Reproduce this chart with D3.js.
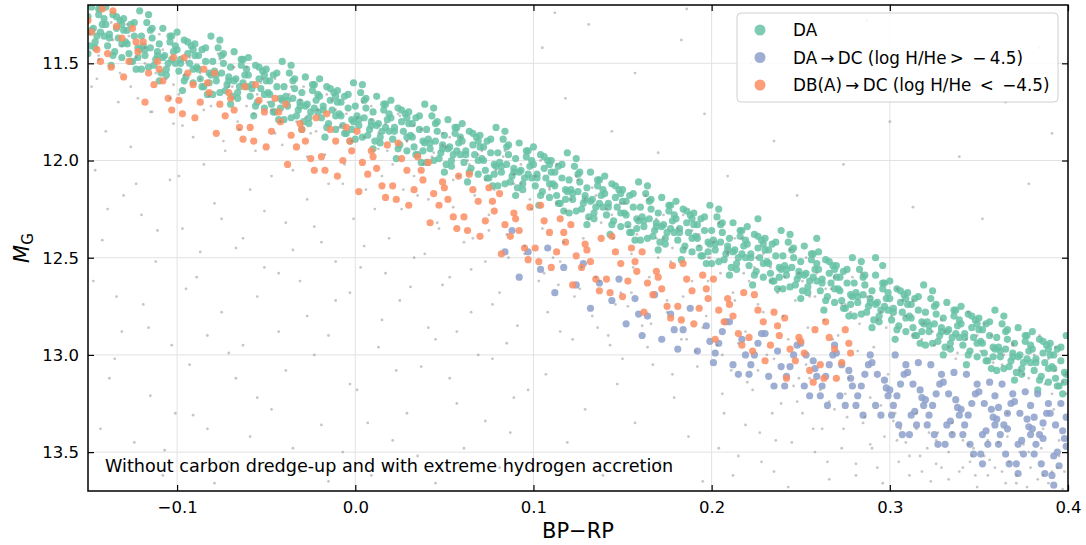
<!DOCTYPE html>
<html>
<head>
<meta charset="utf-8">
<script src="https://cdn.jsdelivr.net/npm/d3@7"></script>
<style>
  body { margin: 0; background: #fff; }
  svg text { font-family: "DejaVu Sans", sans-serif; }
</style>
</head>
<body>
<div id="container"></div>
<script>
// axis ticks
const xTicks = [-0.1, 0.0, 0.1, 0.2, 0.3, 0.4];
const yTicks = [11.5, 12.0, 12.5, 13.0, 13.5];

const seriesNames = [
    'DA',
    'DA\u2009\u2192\u2009DC (log H/He\u2009>\u2002\u2212\u20094.5)',
    'DB(A)\u2009\u2192\u2009DC (log H/He\u2002<\u2002\u22124.5)'
];
const seriesColors = ['#66c2a5', '#8da0cb', '#fc8d62'];

// points, "x,y" pairs (BP-RP, M_G)
const greenPts = `
-0.147,11.32 -0.143,11.22 -0.149,11.41 -0.141,11.27 -0.145,11.36 -0.148,11.21 -0.142,11.30 -0.146,11.39 -0.144,11.25 -0.150,11.45 -0.143,11.34
-0.134,11.32 -0.139,11.41 -0.131,11.47 -0.136,11.25 -0.138,11.35 -0.132,11.28 -0.135,11.44 -0.140,11.21 -0.133,11.37 -0.137,11.51 -0.131,11.30
-0.122,11.42 -0.128,11.33 -0.125,11.49 -0.130,11.27 -0.124,11.36 -0.127,11.45 -0.121,11.23 -0.129,11.39 -0.123,11.53 -0.126,11.30 -0.122,11.47
-0.119,11.41 -0.115,11.33 -0.112,11.48 -0.117,11.29 -0.111,11.44 -0.120,11.53 -0.114,11.37 -0.118,11.46 -0.116,11.25 -0.113,11.51 -0.115,11.42
-0.107,11.46 -0.103,11.36 -0.109,11.55 -0.101,11.41 -0.105,11.50 -0.108,11.32 -0.102,11.44 -0.106,11.53 -0.104,11.39 -0.110,11.59 -0.103,11.48
-0.094,11.45 -0.099,11.54 -0.091,11.60 -0.096,11.38 -0.098,11.48 -0.092,11.41 -0.095,11.57 -0.100,11.34 -0.093,11.50 -0.097,11.64 -0.091,11.43
-0.082,11.55 -0.088,11.46 -0.085,11.62 -0.090,11.40 -0.084,11.49 -0.087,11.58 -0.081,11.36 -0.089,11.52 -0.083,11.66 -0.086,11.43 -0.082,11.60
-0.079,11.54 -0.075,11.46 -0.072,11.61 -0.077,11.42 -0.071,11.57 -0.080,11.66 -0.074,11.50 -0.078,11.59 -0.076,11.38 -0.073,11.64 -0.075,11.55
-0.067,11.58 -0.063,11.48 -0.069,11.67 -0.061,11.53 -0.065,11.62 -0.068,11.44 -0.062,11.56 -0.066,11.65 -0.064,11.51 -0.070,11.71 -0.063,11.60
-0.054,11.58 -0.059,11.67 -0.051,11.73 -0.056,11.51 -0.058,11.61 -0.052,11.54 -0.055,11.70 -0.060,11.47 -0.053,11.63 -0.057,11.77 -0.051,11.56
-0.042,11.68 -0.048,11.59 -0.045,11.75 -0.050,11.53 -0.044,11.62 -0.047,11.71 -0.041,11.49 -0.049,11.65 -0.043,11.79 -0.046,11.56 -0.042,11.73
-0.039,11.67 -0.035,11.59 -0.032,11.74 -0.037,11.55 -0.031,11.70 -0.040,11.79 -0.034,11.63 -0.038,11.72 -0.036,11.51 -0.033,11.77 -0.035,11.68
-0.027,11.71 -0.023,11.61 -0.029,11.80 -0.021,11.66 -0.025,11.75 -0.028,11.57 -0.022,11.69 -0.026,11.78 -0.024,11.64 -0.030,11.84 -0.023,11.73
-0.014,11.69 -0.019,11.78 -0.011,11.84 -0.016,11.62 -0.018,11.72 -0.012,11.65 -0.015,11.81 -0.020,11.58 -0.013,11.74 -0.017,11.88 -0.011,11.67
-0.002,11.79 -0.008,11.70 -0.005,11.86 -0.010,11.64 -0.004,11.73 -0.007,11.82 -0.001,11.60 -0.009,11.76 -0.003,11.90 -0.006,11.67 -0.002,11.84
0.001,11.77 0.005,11.69 0.008,11.84 0.003,11.65 0.009,11.80 0.000,11.89 0.006,11.73 0.002,11.82 0.004,11.61 0.007,11.87 0.005,11.78
0.013,11.81 0.017,11.71 0.011,11.90 0.019,11.76 0.015,11.85 0.012,11.67 0.018,11.79 0.014,11.88 0.016,11.74 0.010,11.94 0.017,11.83
0.026,11.80 0.021,11.89 0.029,11.95 0.024,11.73 0.022,11.83 0.028,11.76 0.025,11.92 0.020,11.69 0.027,11.85 0.023,11.99 0.029,11.78
0.038,11.90 0.032,11.81 0.035,11.97 0.030,11.75 0.036,11.84 0.033,11.93 0.039,11.71 0.031,11.87 0.037,12.01 0.034,11.78 0.038,11.95
0.041,11.89 0.045,11.81 0.048,11.96 0.043,11.77 0.049,11.92 0.040,12.01 0.046,11.85 0.042,11.94 0.044,11.73 0.047,11.99 0.045,11.90
0.053,11.93 0.057,11.83 0.051,12.02 0.059,11.88 0.055,11.97 0.052,11.79 0.058,11.91 0.054,12.00 0.056,11.86 0.050,12.06 0.057,11.95
0.066,11.92 0.061,12.01 0.069,12.07 0.064,11.85 0.062,11.95 0.068,11.88 0.065,12.04 0.060,11.81 0.067,11.97 0.063,12.11 0.069,11.90
0.078,12.02 0.072,11.93 0.075,12.09 0.070,11.87 0.076,11.96 0.073,12.05 0.079,11.83 0.071,11.99 0.077,12.13 0.074,11.90 0.078,12.07
0.081,12.01 0.085,11.93 0.088,12.08 0.083,11.89 0.089,12.04 0.080,12.13 0.086,11.97 0.082,12.06 0.084,11.85 0.087,12.11 0.085,12.02
0.093,12.05 0.097,11.95 0.091,12.14 0.099,12.00 0.095,12.09 0.092,11.91 0.098,12.03 0.094,12.12 0.096,11.98 0.090,12.18 0.097,12.07
0.106,12.04 0.101,12.13 0.109,12.19 0.104,11.97 0.102,12.07 0.108,12.00 0.105,12.16 0.100,11.93 0.107,12.09 0.103,12.23 0.109,12.02
0.118,12.15 0.112,12.06 0.115,12.22 0.110,12.00 0.116,12.09 0.113,12.18 0.119,11.96 0.111,12.12 0.117,12.26 0.114,12.03 0.118,12.20
0.121,12.15 0.125,12.07 0.128,12.22 0.123,12.03 0.129,12.18 0.120,12.27 0.126,12.11 0.122,12.20 0.124,11.99 0.127,12.25 0.125,12.16
0.133,12.20 0.137,12.10 0.131,12.29 0.139,12.15 0.135,12.24 0.132,12.06 0.138,12.18 0.134,12.27 0.136,12.13 0.130,12.33 0.137,12.22
0.146,12.19 0.141,12.28 0.149,12.34 0.144,12.12 0.142,12.22 0.148,12.15 0.145,12.31 0.140,12.08 0.147,12.24 0.143,12.38 0.149,12.17
0.158,12.30 0.152,12.21 0.155,12.37 0.150,12.15 0.156,12.24 0.153,12.33 0.159,12.11 0.151,12.27 0.157,12.41 0.154,12.18 0.158,12.35
0.161,12.29 0.165,12.21 0.168,12.36 0.163,12.17 0.169,12.32 0.160,12.41 0.166,12.25 0.162,12.34 0.164,12.13 0.167,12.39 0.165,12.30
0.173,12.33 0.177,12.23 0.171,12.42 0.179,12.28 0.175,12.37 0.172,12.19 0.178,12.31 0.174,12.40 0.176,12.26 0.170,12.46 0.177,12.35
0.186,12.32 0.181,12.41 0.189,12.47 0.184,12.25 0.182,12.35 0.188,12.28 0.185,12.44 0.180,12.21 0.187,12.37 0.183,12.51 0.189,12.30
0.198,12.42 0.192,12.33 0.195,12.49 0.190,12.27 0.196,12.36 0.193,12.45 0.199,12.23 0.191,12.39 0.197,12.53 0.194,12.30 0.198,12.47
0.201,12.41 0.205,12.33 0.208,12.48 0.203,12.29 0.209,12.44 0.200,12.53 0.206,12.37 0.202,12.46 0.204,12.25 0.207,12.51 0.205,12.42
0.213,12.46 0.217,12.36 0.211,12.55 0.219,12.41 0.215,12.50 0.212,12.32 0.218,12.44 0.214,12.53 0.216,12.39 0.210,12.59 0.217,12.48
0.226,12.45 0.221,12.54 0.229,12.60 0.224,12.38 0.222,12.48 0.228,12.41 0.225,12.57 0.220,12.34 0.227,12.50 0.223,12.64 0.229,12.43
0.238,12.55 0.232,12.46 0.235,12.62 0.230,12.40 0.236,12.49 0.233,12.58 0.239,12.36 0.231,12.52 0.237,12.66 0.234,12.43 0.238,12.60
0.241,12.54 0.245,12.46 0.248,12.61 0.243,12.42 0.249,12.57 0.240,12.66 0.246,12.50 0.242,12.59 0.244,12.38 0.247,12.64 0.245,12.55
0.253,12.58 0.257,12.48 0.251,12.67 0.259,12.53 0.255,12.62 0.252,12.44 0.258,12.56 0.254,12.65 0.256,12.51 0.250,12.71 0.257,12.60
0.266,12.58 0.261,12.67 0.269,12.73 0.264,12.51 0.262,12.61 0.268,12.54 0.265,12.70 0.260,12.47 0.267,12.63 0.263,12.77 0.269,12.56
0.278,12.69 0.272,12.60 0.275,12.76 0.270,12.54 0.276,12.63 0.273,12.72 0.279,12.50 0.271,12.66 0.277,12.80 0.274,12.57 0.278,12.74
0.281,12.68 0.285,12.60 0.288,12.75 0.283,12.56 0.289,12.71 0.280,12.80 0.286,12.64 0.282,12.73 0.284,12.52 0.287,12.78 0.285,12.69
0.293,12.73 0.297,12.63 0.291,12.82 0.299,12.68 0.295,12.77 0.292,12.59 0.298,12.71 0.294,12.80 0.296,12.66 0.290,12.86 0.297,12.75
0.306,12.73 0.301,12.82 0.309,12.88 0.304,12.66 0.302,12.76 0.308,12.69 0.305,12.85 0.300,12.62 0.307,12.78 0.303,12.92 0.309,12.71
0.318,12.83 0.312,12.74 0.315,12.90 0.310,12.68 0.316,12.77 0.313,12.86 0.319,12.64 0.311,12.80 0.317,12.94 0.314,12.71 0.318,12.88
0.321,12.83 0.325,12.75 0.328,12.90 0.323,12.71 0.329,12.86 0.320,12.95 0.326,12.79 0.322,12.88 0.324,12.67 0.327,12.93 0.325,12.84
0.333,12.87 0.337,12.77 0.331,12.96 0.339,12.82 0.335,12.91 0.332,12.73 0.338,12.85 0.334,12.94 0.336,12.80 0.330,13.00 0.337,12.89
0.346,12.86 0.341,12.95 0.349,13.01 0.344,12.79 0.342,12.89 0.348,12.82 0.345,12.98 0.340,12.75 0.347,12.91 0.343,13.05 0.349,12.84
0.358,12.96 0.352,12.87 0.355,13.03 0.350,12.81 0.356,12.90 0.353,12.99 0.359,12.77 0.351,12.93 0.357,13.07 0.354,12.84 0.358,13.01
0.361,12.96 0.365,12.88 0.368,13.03 0.363,12.84 0.369,12.99 0.360,13.08 0.366,12.92 0.362,13.01 0.364,12.80 0.367,13.06 0.365,12.97
0.373,13.00 0.377,12.90 0.371,13.09 0.379,12.95 0.375,13.04 0.372,12.86 0.378,12.98 0.374,13.07 0.376,12.93 0.370,13.13 0.377,13.02
0.386,12.99 0.381,13.08 0.389,13.14 0.384,12.92 0.382,13.02 0.388,12.95 0.385,13.11 0.380,12.88 0.387,13.04 0.383,13.18 0.389,12.97
0.398,13.09 0.392,13.00 0.395,13.16 0.390,12.94 0.396,13.03 0.393,13.12 0.399,12.90 0.391,13.06 0.397,13.20 0.394,12.97 0.398,13.14
-0.148,11.33 -0.144,11.22 -0.141,11.36 -0.146,11.42 -0.150,11.26 -0.138,11.37 -0.134,11.26 -0.131,11.40 -0.136,11.46 -0.140,11.30
-0.128,11.40 -0.124,11.29 -0.121,11.43 -0.126,11.49 -0.130,11.33 -0.118,11.43 -0.114,11.32 -0.111,11.46 -0.116,11.52 -0.120,11.36
-0.108,11.47 -0.104,11.36 -0.101,11.50 -0.106,11.56 -0.110,11.40 -0.098,11.50 -0.094,11.39 -0.091,11.53 -0.096,11.59 -0.100,11.43
-0.088,11.53 -0.084,11.42 -0.081,11.56 -0.086,11.62 -0.090,11.46 -0.078,11.56 -0.074,11.45 -0.071,11.59 -0.076,11.65 -0.080,11.49
-0.068,11.59 -0.064,11.48 -0.061,11.62 -0.066,11.68 -0.070,11.52 -0.058,11.63 -0.054,11.52 -0.051,11.66 -0.056,11.72 -0.060,11.56
-0.048,11.66 -0.044,11.55 -0.041,11.69 -0.046,11.75 -0.050,11.59 -0.038,11.69 -0.034,11.58 -0.031,11.72 -0.036,11.78 -0.040,11.62
-0.028,11.72 -0.024,11.61 -0.021,11.75 -0.026,11.81 -0.030,11.65 -0.018,11.74 -0.014,11.63 -0.011,11.77 -0.016,11.83 -0.020,11.67
-0.008,11.77 -0.004,11.66 -0.001,11.80 -0.006,11.86 -0.010,11.70 0.002,11.79 0.006,11.68 0.009,11.82 0.004,11.88 0.000,11.72
0.012,11.82 0.016,11.71 0.019,11.85 0.014,11.91 0.010,11.75 0.022,11.85 0.026,11.74 0.029,11.88 0.024,11.94 0.020,11.78
0.032,11.88 0.036,11.77 0.039,11.91 0.034,11.97 0.030,11.81 0.042,11.91 0.046,11.80 0.049,11.94 0.044,12.00 0.040,11.84
0.052,11.94 0.056,11.83 0.059,11.97 0.054,12.03 0.050,11.87 0.062,11.97 0.066,11.86 0.069,12.00 0.064,12.06 0.060,11.90
0.072,12.00 0.076,11.89 0.079,12.03 0.074,12.09 0.070,11.93 0.082,12.03 0.086,11.92 0.089,12.06 0.084,12.12 0.080,11.96
0.092,12.06 0.096,11.95 0.099,12.09 0.094,12.15 0.090,11.99 0.102,12.09 0.106,11.98 0.109,12.12 0.104,12.18 0.100,12.02
0.112,12.13 0.116,12.02 0.119,12.16 0.114,12.22 0.110,12.06 0.122,12.17 0.126,12.06 0.129,12.20 0.124,12.26 0.120,12.10
0.132,12.21 0.136,12.10 0.139,12.24 0.134,12.30 0.130,12.14 0.142,12.24 0.146,12.13 0.149,12.27 0.144,12.33 0.140,12.17
0.152,12.28 0.156,12.17 0.159,12.31 0.154,12.37 0.150,12.21 0.162,12.31 0.166,12.20 0.169,12.34 0.164,12.40 0.160,12.24
0.172,12.34 0.176,12.23 0.179,12.37 0.174,12.43 0.170,12.27 0.182,12.37 0.186,12.26 0.189,12.40 0.184,12.46 0.180,12.30
0.192,12.40 0.196,12.29 0.199,12.43 0.194,12.49 0.190,12.33 0.202,12.43 0.206,12.32 0.209,12.46 0.204,12.52 0.200,12.36
0.212,12.47 0.216,12.36 0.219,12.50 0.214,12.56 0.210,12.40 0.222,12.50 0.226,12.39 0.229,12.53 0.224,12.59 0.220,12.43
0.232,12.53 0.236,12.42 0.239,12.56 0.234,12.62 0.230,12.46 0.242,12.56 0.246,12.45 0.249,12.59 0.244,12.65 0.240,12.49
0.252,12.59 0.256,12.48 0.259,12.62 0.254,12.68 0.250,12.52 0.262,12.63 0.266,12.52 0.269,12.66 0.264,12.72 0.260,12.56
0.272,12.67 0.276,12.56 0.279,12.70 0.274,12.76 0.270,12.60 0.282,12.70 0.286,12.59 0.289,12.73 0.284,12.79 0.280,12.63
0.292,12.74 0.296,12.63 0.299,12.77 0.294,12.83 0.290,12.67 0.302,12.78 0.306,12.67 0.309,12.81 0.304,12.87 0.300,12.71
0.312,12.81 0.316,12.70 0.319,12.84 0.314,12.90 0.310,12.74 0.322,12.85 0.326,12.74 0.329,12.88 0.324,12.94 0.320,12.78
0.332,12.88 0.336,12.77 0.339,12.91 0.334,12.97 0.330,12.81 0.342,12.91 0.346,12.80 0.349,12.94 0.344,13.00 0.340,12.84
0.352,12.94 0.356,12.83 0.359,12.97 0.354,13.03 0.350,12.87 0.362,12.98 0.366,12.87 0.369,13.01 0.364,13.07 0.360,12.91
0.372,13.01 0.376,12.90 0.379,13.04 0.374,13.10 0.370,12.94 0.382,13.04 0.386,12.93 0.389,13.07 0.384,13.13 0.380,12.97
0.392,13.07 0.396,12.96 0.399,13.10 0.394,13.16 0.390,13.00 0.292,12.50 0.296,12.54 0.226,12.30 0.259,12.40
`;

const orangePts = `
-0.148,11.34 -0.142,11.22 -0.145,11.43 -0.150,11.28 -0.143,11.49 -0.134,11.31 -0.139,11.45 -0.131,11.37 -0.136,11.23 -0.137,11.52
-0.127,11.49 -0.123,11.39 -0.130,11.57 -0.125,11.32 -0.122,11.44 -0.111,11.49 -0.116,11.55 -0.119,11.39 -0.113,11.61 -0.118,11.70
-0.108,11.59 -0.102,11.47 -0.105,11.68 -0.110,11.53 -0.103,11.74 -0.094,11.55 -0.099,11.69 -0.091,11.61 -0.096,11.47 -0.097,11.76
-0.087,11.70 -0.083,11.60 -0.090,11.78 -0.085,11.53 -0.082,11.65 -0.071,11.65 -0.076,11.71 -0.079,11.55 -0.073,11.77 -0.078,11.86
-0.068,11.74 -0.062,11.62 -0.065,11.83 -0.070,11.68 -0.063,11.89 -0.054,11.69 -0.059,11.83 -0.051,11.75 -0.056,11.61 -0.057,11.90
-0.047,11.85 -0.043,11.75 -0.050,11.93 -0.045,11.68 -0.042,11.80 -0.031,11.81 -0.036,11.87 -0.039,11.71 -0.033,11.93 -0.038,12.02
-0.028,11.90 -0.022,11.78 -0.025,11.99 -0.030,11.84 -0.023,12.05 -0.014,11.84 -0.019,11.98 -0.011,11.90 -0.016,11.76 -0.017,12.05
-0.007,12.00 -0.003,11.90 -0.010,12.08 -0.005,11.83 -0.002,11.95 0.009,11.95 0.004,12.01 0.001,11.85 0.007,12.07 0.002,12.16
0.012,12.04 0.018,11.92 0.015,12.13 0.010,11.98 0.017,12.19 0.026,11.99 0.021,12.13 0.029,12.05 0.024,11.91 0.023,12.20
0.033,12.15 0.037,12.05 0.030,12.23 0.035,11.98 0.038,12.10 0.049,12.11 0.044,12.17 0.041,12.01 0.047,12.23 0.042,12.32
0.052,12.20 0.058,12.08 0.055,12.29 0.050,12.14 0.057,12.35 0.066,12.15 0.061,12.29 0.069,12.21 0.064,12.07 0.063,12.36
0.073,12.31 0.077,12.21 0.070,12.39 0.075,12.14 0.078,12.26 0.089,12.27 0.084,12.33 0.081,12.17 0.087,12.39 0.082,12.48
0.092,12.36 0.098,12.24 0.095,12.45 0.090,12.30 0.097,12.51 0.106,12.31 0.101,12.45 0.109,12.37 0.104,12.23 0.103,12.52
0.113,12.47 0.117,12.37 0.110,12.55 0.115,12.30 0.118,12.42 0.129,12.43 0.124,12.49 0.121,12.33 0.127,12.55 0.122,12.64
0.132,12.52 0.138,12.40 0.135,12.61 0.130,12.46 0.137,12.67 0.146,12.47 0.141,12.61 0.149,12.53 0.144,12.39 0.143,12.68
0.153,12.62 0.157,12.52 0.150,12.70 0.155,12.45 0.158,12.57 0.169,12.57 0.164,12.63 0.161,12.47 0.167,12.69 0.162,12.78
0.172,12.66 0.178,12.54 0.175,12.75 0.170,12.60 0.177,12.81 0.186,12.61 0.181,12.75 0.189,12.67 0.184,12.53 0.183,12.82
0.193,12.76 0.197,12.66 0.190,12.84 0.195,12.59 0.198,12.71 0.209,12.71 0.204,12.77 0.201,12.61 0.207,12.83 0.202,12.92
0.212,12.80 0.218,12.68 0.215,12.89 0.210,12.74 0.217,12.95 0.226,12.77 0.221,12.91 0.229,12.83 0.224,12.69 0.223,12.98
0.233,12.95 0.237,12.85 0.230,13.03 0.235,12.78 0.238,12.90 0.249,12.91 0.244,12.97 0.241,12.81 0.247,13.03 0.242,13.12
0.252,12.99 0.258,12.87 0.255,13.08 0.250,12.93 0.257,13.14 0.266,12.91 0.261,13.05 0.269,12.97 0.264,12.83 0.263,13.12
0.273,13.04 0.277,12.94 0.270,13.12 0.275,12.87 0.278,12.99
`;

const bluePts = `
0.084,12.47 0.088,12.36 0.097,12.47 0.092,12.60 0.104,12.56 0.108,12.45 0.117,12.55 0.112,12.68 0.124,12.64 0.128,12.53
0.137,12.63 0.132,12.76 0.144,12.72 0.148,12.61 0.157,12.71 0.152,12.84 0.159,12.79 0.164,12.80 0.168,12.69 0.161,12.90
0.177,12.79 0.172,12.92 0.179,12.87 0.184,12.87 0.188,12.76 0.181,12.97 0.197,12.85 0.192,12.98 0.199,12.93
0.204,12.94 0.208,12.83 0.201,13.04 0.206,12.88 0.202,12.99 0.217,12.92 0.212,13.05 0.219,13.00 0.210,12.83 0.215,13.10
0.224,13.00 0.228,12.89 0.221,13.10 0.226,12.94 0.222,13.05 0.237,12.98 0.232,13.11 0.239,13.06 0.230,12.89 0.235,13.16
0.244,13.06 0.248,12.95 0.241,13.16 0.246,13.00 0.242,13.11
0.257,13.03 0.252,13.16 0.259,13.11 0.250,12.94 0.255,13.21 0.253,13.00 0.258,13.07
0.264,13.11 0.268,13.00 0.261,13.21 0.266,13.05 0.262,13.16 0.269,12.95 0.265,13.26
0.277,13.08 0.272,13.21 0.279,13.16 0.270,12.99 0.275,13.26 0.273,13.05 0.278,13.12
0.284,13.16 0.288,13.05 0.281,13.26 0.286,13.10 0.282,13.21 0.289,13.00 0.285,13.31
0.297,13.13 0.292,13.26 0.299,13.21 0.290,13.04 0.295,13.31 0.293,13.10 0.298,13.17
0.304,13.21 0.308,13.10 0.301,13.31 0.306,13.15 0.302,13.26 0.309,13.05 0.305,13.36 0.300,13.18 0.307,13.41 0.303,13.00
0.317,13.18 0.312,13.31 0.319,13.26 0.310,13.09 0.315,13.36 0.313,13.15 0.318,13.22 0.311,13.41 0.316,13.04 0.314,13.29
0.324,13.26 0.328,13.15 0.321,13.36 0.326,13.20 0.322,13.31 0.329,13.10 0.325,13.41 0.320,13.23 0.327,13.46 0.323,13.05
0.337,13.23 0.332,13.36 0.339,13.31 0.330,13.14 0.335,13.41 0.333,13.20 0.338,13.27 0.331,13.46 0.336,13.09 0.334,13.34
0.344,13.31 0.348,13.20 0.341,13.41 0.346,13.25 0.342,13.36 0.349,13.15 0.345,13.46 0.340,13.28 0.347,13.51 0.343,13.10
0.357,13.28 0.352,13.41 0.359,13.36 0.350,13.19 0.355,13.46 0.353,13.25 0.358,13.32 0.351,13.51 0.356,13.14 0.354,13.39 0.359,13.21 0.352,13.56
0.364,13.36 0.368,13.25 0.361,13.46 0.366,13.30 0.362,13.41 0.369,13.20 0.365,13.51 0.360,13.33 0.367,13.56 0.363,13.15 0.366,13.38 0.361,13.27
0.377,13.33 0.372,13.46 0.379,13.41 0.370,13.24 0.375,13.51 0.373,13.30 0.378,13.37 0.371,13.56 0.376,13.19 0.374,13.44 0.379,13.26 0.372,13.61
0.384,13.41 0.388,13.30 0.381,13.51 0.386,13.35 0.382,13.46 0.389,13.25 0.385,13.56 0.380,13.38 0.387,13.61 0.383,13.20 0.386,13.43 0.381,13.32
0.397,13.39 0.392,13.52 0.399,13.47 0.390,13.30 0.395,13.57 0.393,13.36 0.398,13.43 0.391,13.62 0.396,13.25 0.394,13.50 0.399,13.32 0.392,13.67
`;

const grayPts = `
-0.148,11.62 -0.146,12.05 -0.144,11.48 -0.142,12.41 -0.140,11.85 -0.138,13.12 -0.136,11.38 -0.134,12.70 -0.132,11.55 -0.130,12.18 -0.128,11.30 -0.126,11.93 -0.124,13.45 -0.122,11.68 -0.120,12.28 -0.118,11.42 -0.116,12.86 -0.114,11.75 -0.112,12.52 -0.110,11.35 -0.108,13.62 -0.106,11.58 -0.104,12.10 -0.102,11.81 -0.101,13.30
-0.099,11.66 -0.097,12.35 -0.095,11.49 -0.093,13.05 -0.091,11.88 -0.089,12.60 -0.087,11.55 -0.085,12.02 -0.083,13.38 -0.081,11.72 -0.079,12.22 -0.077,11.45 -0.075,12.78 -0.073,11.95 -0.071,13.55 -0.069,11.62 -0.067,12.45 -0.065,11.84 -0.063,12.95 -0.061,11.52 -0.059,12.15 -0.057,11.76 -0.055,13.22 -0.053,11.60 -0.051,12.55
-0.049,11.70 -0.047,12.08 -0.045,11.58 -0.043,12.88 -0.041,11.92 -0.039,12.32 -0.037,11.66 -0.035,13.48 -0.033,11.80 -0.031,12.62 -0.029,11.62 -0.027,12.20 -0.025,11.86 -0.023,13.00 -0.021,11.74 -0.019,12.42 -0.017,11.97 -0.015,13.65 -0.013,11.69 -0.011,12.72 -0.009,11.83 -0.007,12.12 -0.005,11.76 -0.003,13.15 -0.001,12.30
0.001,11.78 0.003,12.55 0.005,11.88 0.007,13.35 0.009,11.72 0.011,12.25 0.013,11.94 0.015,12.82 0.017,11.81 0.019,12.40 0.021,12.02 0.023,13.08 0.025,11.77 0.027,12.15 0.029,11.90 0.031,12.65 0.033,12.08 0.035,13.52 0.037,11.84 0.039,12.48 0.041,12.20 0.043,11.98 0.045,12.92 0.047,12.35 0.049,11.86
0.051,11.93 0.053,12.60 0.055,12.10 0.057,13.25 0.059,11.88 0.061,12.42 0.063,12.00 0.065,12.78 0.067,12.18 0.069,13.60 0.071,11.95 0.073,12.52 0.075,12.28 0.077,13.02 0.079,12.05 0.081,12.68 0.083,11.98 0.085,12.38 0.087,13.40 0.089,12.12 0.091,12.85 0.093,12.02 0.095,12.48 0.097,13.18 0.099,12.25
0.101,12.08 0.103,12.62 0.105,12.35 0.107,13.10 0.109,12.15 0.111,12.50 0.113,12.02 0.115,12.88 0.117,12.42 0.119,13.45 0.121,12.20 0.123,12.70 0.125,12.10 0.127,12.55 0.129,13.28 0.131,12.30 0.133,12.80 0.135,12.18 0.137,12.62 0.139,13.62 0.141,12.25 0.143,12.95 0.145,12.40 0.147,13.15 0.149,12.68
0.151,12.22 0.153,12.75 0.155,12.48 0.157,13.35 0.159,12.30 0.161,12.85 0.163,12.18 0.165,12.60 0.167,13.05 0.169,12.40 0.171,13.55 0.173,12.28 0.175,12.72 0.177,12.52 0.179,13.22 0.181,12.35 0.183,12.92 0.185,12.45 0.187,13.42 0.189,12.62 0.191,12.98 0.193,12.38 0.195,13.65 0.197,12.80 0.199,12.50
0.201,12.42 0.203,12.95 0.205,12.58 0.207,13.30 0.209,12.48 0.211,13.08 0.213,12.72 0.215,13.52 0.217,12.40 0.219,12.88 0.221,12.62 0.223,13.18 0.225,12.50 0.227,13.40 0.229,12.78 0.231,13.00 0.233,12.55 0.235,13.60 0.237,12.68 0.239,13.25 0.241,12.60 0.243,12.92 0.245,13.45 0.247,12.72 0.249,13.12
0.251,12.62 0.253,13.05 0.255,12.70 0.257,13.38 0.259,12.58 0.261,13.18 0.263,12.82 0.265,13.55 0.267,12.66 0.269,13.28 0.271,12.90 0.273,13.48 0.275,12.74 0.277,13.12 0.279,12.60 0.281,13.62 0.283,12.84 0.285,13.35 0.287,12.70 0.289,13.22 0.291,12.96 0.293,13.58 0.295,12.78 0.297,13.42 0.299,13.10
0.301,12.80 0.303,13.30 0.305,13.55 0.307,12.72 0.309,13.45 0.311,13.62 0.313,12.90 0.315,13.38 0.317,13.52 0.319,12.84 0.321,13.48 0.323,13.65 0.325,12.95 0.327,13.40 0.329,13.58 0.331,12.88 0.333,13.50 0.335,13.35 0.337,13.02 0.339,13.60 0.341,13.44 0.343,12.92 0.345,13.55 0.347,13.48 0.349,13.68
0.351,12.98 0.353,13.52 0.355,13.62 0.357,12.90 0.359,13.58 0.361,13.45 0.363,13.05 0.365,13.66 0.367,13.55 0.369,12.95 0.371,13.62 0.373,13.50 0.375,13.10 0.377,13.68 0.379,13.58 0.381,13.00 0.383,13.64 0.385,13.48 0.387,13.15 0.389,13.66 0.391,13.60 0.393,13.08 0.395,13.52 0.397,13.69 0.399,13.20
-0.149,11.35 -0.137,11.29 -0.144,11.46 -0.131,11.41 -0.127,11.36 -0.118,11.50 -0.123,11.47 -0.112,11.55 -0.108,11.43 -0.096,11.56 -0.102,11.61 -0.093,11.47
-0.087,11.58 -0.076,11.48 -0.082,11.67 -0.071,11.62 -0.068,11.52 -0.055,11.66 -0.061,11.72 -0.052,11.58 -0.047,11.74 -0.036,11.62 -0.042,11.80 -0.031,11.69
-0.028,11.78 -0.016,11.66 -0.022,11.85 -0.011,11.74 -0.008,11.82 0.004,11.70 -0.002,11.90 0.009,11.79 0.013,11.86 0.024,11.76 0.018,11.95 0.029,11.90
0.033,11.82 0.044,11.96 0.038,12.02 0.049,11.92 0.053,11.88 0.064,12.02 0.058,12.08 0.069,11.97 0.073,12.10 0.084,11.95 0.078,12.15 0.089,12.07
0.093,12.12 0.104,12.00 0.098,12.20 0.109,12.14 0.113,12.22 0.124,12.08 0.118,12.26 0.129,12.20 0.133,12.14 0.144,12.28 0.138,12.32 0.149,12.22
0.153,12.34 0.164,12.20 0.158,12.38 0.169,12.30 0.173,12.40 0.184,12.28 0.178,12.45 0.189,12.36 0.193,12.44 0.204,12.32 0.198,12.50 0.209,12.47
0.213,12.40 0.224,12.55 0.218,12.58 0.229,12.48 0.233,12.62 0.244,12.46 0.238,12.66 0.249,12.58 0.253,12.50 0.264,12.66 0.258,12.70 0.269,12.60
0.273,12.74 0.284,12.58 0.278,12.78 0.289,12.70 0.293,12.82 0.304,12.66 0.298,12.86 0.309,12.80 0.313,12.72 0.324,12.88 0.318,12.92 0.329,12.82
0.333,12.96 0.344,12.78 0.338,12.99 0.349,12.90 0.353,12.84 0.364,13.00 0.358,13.04 0.369,12.94 0.373,13.08 0.384,12.90 0.378,13.12 0.389,13.02
0.393,12.96 0.397,13.14 0.391,13.20 0.399,13.10
-0.145,11.58 -0.133,11.70 -0.126,11.62 -0.115,11.75 -0.104,11.68 -0.097,11.82 -0.085,11.74 -0.074,11.90 -0.066,11.80 -0.056,11.95 -0.045,11.86 -0.035,12.05
-0.027,11.98 -0.015,12.12 -0.006,12.02 0.006,12.15 0.015,12.08 0.026,12.25 0.035,12.18 0.046,12.32 0.055,12.24 0.066,12.40 0.075,12.36 0.086,12.50
0.095,12.44 0.106,12.58 0.115,12.52 0.126,12.66 0.135,12.60 0.146,12.74 0.155,12.68 0.166,12.84 0.175,12.78 0.186,12.92 0.195,12.86 0.206,13.00
0.215,12.94 0.226,13.08 0.235,13.02 0.246,13.16 0.255,13.12 0.266,13.24 0.275,13.20 0.286,13.32 0.295,13.26 0.306,13.38 0.315,13.30 0.326,13.44
0.335,13.40 0.346,13.52 0.355,13.44 0.366,13.30 0.375,13.46 0.386,13.38 0.395,13.44 0.392,13.28 0.398,13.60
-0.147,12.62 -0.143,13.38 -0.139,12.25 -0.135,13.02 -0.131,12.88 -0.127,13.58 -0.123,12.12 -0.119,12.74 -0.115,13.21 -0.111,12.36 -0.107,13.49 -0.103,12.95
-0.099,12.08 -0.095,12.66 -0.091,13.31 -0.087,12.47 -0.083,12.90 -0.079,13.66 -0.075,12.30 -0.071,12.99 -0.067,13.12 -0.063,12.40 -0.059,13.42 -0.055,12.70 -0.051,12.26
-0.047,13.28 -0.043,12.58 -0.039,13.08 -0.035,12.46 -0.031,13.60 -0.027,12.80 -0.023,12.34 -0.019,13.36 -0.015,12.90 -0.011,12.52 -0.007,13.50 -0.003,12.68
0.001,13.18 0.005,12.44 0.009,13.62 0.013,12.96 0.017,12.58 0.021,13.44 0.025,12.72 0.029,13.30 0.033,12.50 0.037,13.06 0.041,12.86 0.045,13.66 0.049,12.64
0.053,13.12 0.057,12.88 0.061,13.48 0.065,12.56 0.069,13.00 0.073,13.34 0.077,12.74 0.081,13.58 0.085,12.94 0.089,13.22
0.105,11.42 0.118,11.68 0.131,11.30 0.144,11.85 0.157,11.55 0.170,11.96 0.183,11.38 0.196,11.76 0.209,12.08 0.222,11.50 0.235,11.90 0.248,12.18 0.261,11.62 0.274,12.02
0.287,11.28 0.300,11.80 0.313,12.24 0.326,11.46 0.339,11.98 0.352,12.30 0.365,11.70 0.378,12.12 0.391,11.86 0.112,11.24 0.186,11.22 0.258,11.34 0.330,11.60 0.384,11.42
0.204,13.48 0.212,13.62 0.219,13.36 0.228,13.55 0.236,13.44 0.243,13.68 0.251,13.30 0.258,13.50 0.266,13.64 0.274,13.38 0.281,13.56 0.289,13.46 0.296,13.66 0.304,13.44 0.311,13.52
0.318,13.60 0.326,13.56 0.333,13.64 0.341,13.58 0.348,13.62 0.356,13.54 0.363,13.60 0.371,13.66 0.378,13.50 0.386,13.62 0.394,13.58 0.302,13.34 0.322,13.40 0.344,13.46 0.366,13.42
0.108,12.78 0.122,12.92 0.136,12.86 0.150,13.02 0.164,12.96 0.178,13.10 0.192,13.06 0.206,13.20 0.220,13.14 0.234,13.30 0.248,13.24 0.262,13.38 0.276,13.32 0.290,13.48
0.114,12.64 0.128,12.40 0.142,12.90 0.156,12.55 0.170,12.50 0.184,12.70 0.198,12.62 0.212,12.68 0.226,12.74 0.240,12.80 0.254,12.86 0.268,12.92 0.282,12.98
`;

const annotation = 'Without carbon dredge-up and with extreme hydrogen accretion';

function parsePts(str) {
    return str.trim().split(/\s+/).map(s => s.split(',').map(Number));
}

const width = 1086;
const height = 545;
const margin = { top: 5, right: 18, bottom: 54, left: 88 };

const svg = d3.select('#container').append('svg')
    .attr('width', width)
    .attr('height', height);

const x = d3.scaleLinear().domain([-0.15, 0.4]).range([margin.left, width - margin.right]);
const y = d3.scaleLinear().domain([11.2, 13.7]).range([margin.top, height - margin.bottom]);

svg.append('defs').append('clipPath').attr('id', 'plotclip')
    .append('rect')
    .attr('x', margin.left).attr('y', margin.top)
    .attr('width', x.range()[1] - margin.left)
    .attr('height', y.range()[1] - margin.top);

// grid
const grid = svg.append('g').attr('stroke', '#e2e2e2').attr('stroke-width', 1);
xTicks.forEach(t => grid.append('line')
    .attr('x1', x(t)).attr('x2', x(t)).attr('y1', y.range()[0]).attr('y2', y.range()[1]));
yTicks.forEach(t => grid.append('line')
    .attr('x1', x.range()[0]).attr('x2', x.range()[1]).attr('y1', y(t)).attr('y2', y(t)));

const plot = svg.append('g').attr('clip-path', 'url(#plotclip)');

// the three populations
[greenPts, bluePts, orangePts].forEach((pts, k) => {
    const color = [seriesColors[0], seriesColors[1], seriesColors[2]][k];
    plot.append('g')
        .selectAll('circle')
        .data(parsePts(pts))
        .enter().append('circle')
        .attr('cx', d => x(d[0]))
        .attr('cy', d => y(d[1]))
        .attr('r', 3.6)
        .attr('fill', color)
        .attr('fill-opacity', 0.85);
});

// background stars, faint on top
plot.append('g')
    .selectAll('circle')
    .data(parsePts(grayPts))
    .enter().append('circle')
    .attr('cx', d => x(d[0]))
    .attr('cy', d => y(d[1]))
    .attr('r', 1.4)
    .attr('fill', '#808080')
    .attr('fill-opacity', 0.45);

// axes, ticks pointing inward on every side
const fmt = d => d3.format('.1f')(d).replace('-', '\u2212');
const axisBottom = d3.axisBottom(x).tickValues(xTicks).tickFormat(fmt).tickSizeInner(-6).tickSizeOuter(0).tickPadding(10);
const axisTop = d3.axisTop(x).tickValues(xTicks).tickFormat('').tickSizeInner(-6).tickSizeOuter(0);
const axisLeft = d3.axisLeft(y).tickValues(yTicks).tickFormat(d => d3.format('.1f')(d)).tickSizeInner(-6).tickSizeOuter(0).tickPadding(9);
const axisRight = d3.axisRight(y).tickValues(yTicks).tickFormat('').tickSizeInner(-6).tickSizeOuter(0);

function styleAxis(g) {
    g.select('.domain').remove();
    g.selectAll('line').attr('stroke', '#000').attr('stroke-width', 1.2);
    g.selectAll('text').attr('font-size', 16.5).attr('fill', '#000').attr('font-family', '"DejaVu Sans", sans-serif');
}

svg.append('g').attr('transform', `translate(0,${y.range()[1]})`).call(axisBottom).call(styleAxis);
svg.append('g').attr('transform', `translate(0,${y.range()[0]})`).call(axisTop).call(styleAxis);
svg.append('g').attr('transform', `translate(${x.range()[0]},0)`).call(axisLeft).call(styleAxis);
svg.append('g').attr('transform', `translate(${x.range()[1]},0)`).call(axisRight).call(styleAxis);

// frame
svg.append('rect')
    .attr('x', x.range()[0]).attr('y', y.range()[0])
    .attr('width', x.range()[1] - x.range()[0])
    .attr('height', y.range()[1] - y.range()[0])
    .attr('fill', 'none').attr('stroke', '#000').attr('stroke-width', 1.5);

// axis labels
svg.append('text')
    .attr('x', (x.range()[0] + x.range()[1]) / 2)
    .attr('y', 538)
    .attr('text-anchor', 'middle')
    .attr('font-size', 21)
    .text('BP\u2212RP');

const ylab = svg.append('text')
    .attr('transform', `translate(29,${(y.range()[0] + y.range()[1]) / 2}) rotate(-90)`)
    .attr('text-anchor', 'middle')
    .attr('font-size', 21);
ylab.append('tspan').attr('font-style', 'italic').text('M');
ylab.append('tspan').attr('font-size', 15).attr('dy', 4).text('G');

// annotation
svg.append('text')
    .attr('x', 105).attr('y', 472)
    .attr('font-size', 17.6)
    .text(annotation);

// legend
const legend = svg.append('g').attr('transform', 'translate(737,13)');
legend.append('rect')
    .attr('width', 321).attr('height', 89)
    .attr('rx', 4)
    .attr('fill', '#fff').attr('fill-opacity', 0.85)
    .attr('stroke', '#d0d0d0').attr('stroke-width', 1);

seriesNames.forEach((name, i) => {
    const row = legend.append('g').attr('transform', `translate(0,${17 + i * 27.5})`);
    row.append('circle').attr('cx', 23).attr('cy', 0).attr('r', 5.5)
        .attr('fill', seriesColors[i]).attr('fill-opacity', 0.85);
    row.append('text').attr('x', 56).attr('y', 6)
        .attr('font-size', 16.8)
        .text(name);
});
</script>
</body>
</html>
